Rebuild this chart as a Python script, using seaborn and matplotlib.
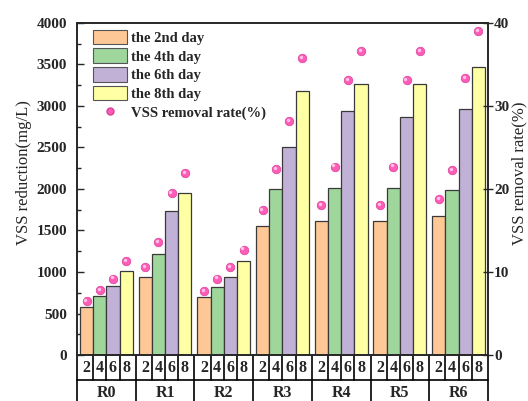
import matplotlib
matplotlib.use("Agg")
import matplotlib.pyplot as plt
import matplotlib.transforms as mtransforms
from matplotlib.lines import Line2D
from matplotlib.patches import Patch
from matplotlib.ticker import MultipleLocator
import numpy as np
import pandas as pd
import seaborn as sns

reactors = ["R0", "R1", "R2", "R3", "R4", "R5", "R6"]
days = ["2", "4", "6", "8"]
day_labels = ["the 2nd day", "the 4th day", "the 6th day", "the 8th day"]

vss_day2 = [580, 945, 700, 1550, 1615, 1615, 1670]
vss_day4 = [705, 1220, 825, 1995, 2010, 2010, 1985]
vss_day6 = [830, 1740, 945, 2510, 2945, 2870, 2965]
vss_day8 = [1010, 1950, 1130, 3180, 3265, 3265, 3475]

rate_day2 = [6.5, 10.6, 7.7, 17.5, 18.1, 18.1, 18.8]
rate_day4 = [7.8, 13.6, 9.2, 22.4, 22.7, 22.7, 22.3]
rate_day6 = [9.2, 19.5, 10.6, 28.2, 33.1, 33.1, 33.4]
rate_day8 = [11.3, 21.9, 12.7, 35.8, 36.6, 36.6, 39.0]

bar_colors = ["#FDC896", "#9ED69C", "#C2B1D6", "#FFFFA3"]
dot_color = "#FF5CB8"

vss = [vss_day2, vss_day4, vss_day6, vss_day8]
rates = [rate_day2, rate_day4, rate_day6, rate_day8]
df = pd.DataFrame(
    [(r, d, vss[i][j], rates[i][j]) for j, r in enumerate(reactors) for i, d in enumerate(days)],
    columns=["reactor", "day", "vss", "rate"],
)

sns.set_theme(style="ticks")
plt.rcParams["font.family"] = ["Liberation Serif", "DejaVu Serif"]

fig = plt.figure(figsize=(5.28, 4.01), dpi=100)
ax = fig.add_axes([0.1458, 0.1147, 0.7784, 0.828])

width = 0.9
sns.barplot(
    data=df, x="reactor", y="vss", hue="day", hue_order=days, order=reactors,
    palette=bar_colors, width=width, saturation=1, edgecolor="#3a3a3a",
    linewidth=0.9, legend=False, ax=ax,
)
ax.set_xlim(-0.5, len(reactors) - 0.5)
ax.set_ylim(0, 4000)
ax.yaxis.set_major_locator(MultipleLocator(500))
ax.yaxis.set_minor_locator(MultipleLocator(250))
ax.tick_params(axis="x", length=0, labelbottom=False)
ax.tick_params(axis="y", which="major", direction="in", length=5, width=1,
               labelsize=11, pad=7)
ax.tick_params(axis="y", which="minor", direction="in", length=3, width=1)
ax.set_xlabel("")
ax.set_ylabel("VSS reduction(mg/L)", fontsize=12, labelpad=3, y=0.548)
for lab in ax.get_yticklabels():
    lab.set_fontweight("bold")
for sp in ax.spines.values():
    sp.set_linewidth(1.2)
    sp.set_visible(True)

# removal rate dots on the secondary axis
ax2 = ax.twinx()
bar_w = width / len(days)
offsets = (np.arange(len(days)) - (len(days) - 1) / 2) * bar_w
pos = {r: j for j, r in enumerate(reactors)}
df["xpos"] = [pos[r] + offsets[days.index(d)] for r, d in zip(df["reactor"], df["day"])]
sns.scatterplot(data=df, x="xpos", y="rate", color=dot_color, s=38,
                edgecolor="#D8409A", linewidth=0.5, ax=ax2, zorder=3, legend=False)
shine = mtransforms.offset_copy(ax2.transData, fig=fig, x=-1.2, y=1.2, units="dots")
ax2.scatter(df["xpos"], df["rate"], s=6, color="#FFC2E4", linewidth=0,
            transform=shine, zorder=4)
ax2.set_ylim(0, 40)
ax2.set_xlim(-0.5, len(reactors) - 0.5)
ax2.yaxis.set_major_locator(MultipleLocator(10))
ax2.tick_params(axis="y", direction="inout", length=7, width=1, labelsize=11, pad=1)
ax2.set_ylabel("VSS removal rate(%)", fontsize=12, labelpad=1.5, y=0.548)
ax2.set_xlabel("")
for lab in ax2.get_yticklabels():
    lab.set_fontweight("bold")
for sp in ax2.spines.values():
    sp.set_linewidth(1.2)

# legend
handles = [Patch(facecolor=c, edgecolor="#555555", linewidth=0.8) for c in bar_colors]
handles.append(Line2D([], [], marker="o", linestyle="none", markersize=5,
                      markerfacecolor=dot_color, markeredgecolor="#D8409A"))
ax2.legend(handles, day_labels + ["VSS removal rate(%)"], loc="upper left",
           bbox_to_anchor=(0.018, 1.006), frameon=False, handlelength=2.33,
           handleheight=1.15, handletextpad=0.3, labelspacing=0.24,
           borderaxespad=0.2,
           prop={"family": "Liberation Serif", "weight": "bold", "size": 10.5})

# category table under the axis
trans = mtransforms.blended_transform_factory(ax.transData, ax.transAxes)
row1 = -0.0753
row_bottom = -0.2
line_kw = dict(color="black", linewidth=1.2, transform=trans, clip_on=False)
x0, x1 = -0.5, len(reactors) - 0.5
ax.plot([x0, x1], [row1, row1], **line_kw)
for xb in np.arange(x0, x1 + 0.01, 1.0):
    ax.plot([xb, xb], [0, row_bottom], **line_kw)
for j, r in enumerate(reactors):
    for k in range(1, len(days)):
        xb = j - width / 2 + k * bar_w
        ax.plot([xb, xb], [0, row1], **line_kw)
    for k, d in enumerate(days):
        ax.text(j + offsets[k], row1 / 2, d, transform=trans, ha="center", va="center",
                fontsize=11.5, fontweight="bold")
    ax.text(j, -0.114, r, transform=trans, ha="center", va="center",
            fontsize=11.5, fontweight="bold")

fig.savefig("out.png", dpi=100)
